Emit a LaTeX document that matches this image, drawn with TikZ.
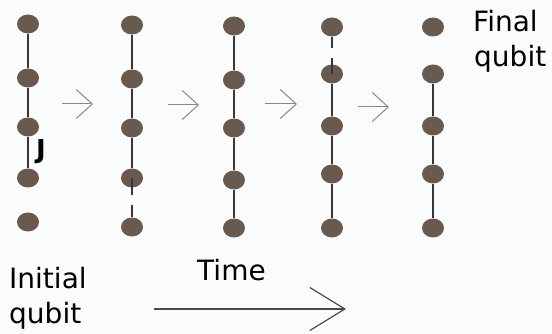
\documentclass[tikz,border=0pt]{standalone}
\usepackage{fontspec}
\setmainfont{DejaVu Sans}
\usetikzlibrary{shapes.geometric,arrows.meta}
\definecolor{dotc}{RGB}{104,90,78}
\definecolor{edgec}{RGB}{55,55,55}
\definecolor{arrc}{RGB}{135,135,135}
\definecolor{bgc}{RGB}{250,252,252}
\tikzset{
  qdot/.style={ellipse, fill=dotc, minimum width=22pt, minimum height=19pt, inner sep=0pt},
  edge/.style={draw=edgec, line width=1.1pt},
  stepar/.style={draw=arrc, line width=1pt, -{Straight Barb[length=16pt,width=29pt]}},
  timear/.style={draw=edgec!90, line width=1.2pt, -{Straight Barb[length=35pt,width=43pt]}},
  lbl/.style={inner sep=0pt, anchor=base west, font=\fontsize{28}{35}\selectfont},
}
\begin{document}
\begin{tikzpicture}[x=1pt,y=-1pt]
\fill[bgc] (0,0) rectangle (552,334);
\useasboundingbox (0,0) rectangle (552,334);
% column 1
\node[qdot] (a1) at (28,24) {};
\node[qdot] (a2) at (28,78) {};
\node[qdot] (a3) at (28,127) {};
\node[qdot] (a4) at (28,178) {};
\node[qdot] (a5) at (28,222) {};
% column 2
\node[qdot] (b1) at (132,25) {};
\node[qdot] (b2) at (132,79) {};
\node[qdot] (b3) at (132,128) {};
\node[qdot] (b4) at (132,178) {};
\node[qdot] (b5) at (132,227) {};
% column 3
\node[qdot] (c1) at (234,26) {};
\node[qdot] (c2) at (234,80) {};
\node[qdot] (c3) at (234,128) {};
\node[qdot] (c4) at (234,180) {};
\node[qdot] (c5) at (234,228) {};
% column 4
\node[qdot] (d1) at (332,27) {};
\node[qdot] (d2) at (332,74) {};
\node[qdot] (d3) at (332,126) {};
\node[qdot] (d4) at (332,174) {};
\node[qdot] (d5) at (332,228) {};
% column 5
\node[qdot] (e1) at (433,27) {};
\node[qdot] (e2) at (433,74) {};
\node[qdot] (e3) at (433,126) {};
\node[qdot] (e4) at (433,174) {};
\node[qdot] (e5) at (433,228) {};
% bonds
\draw[edge] (a1) -- (a2); \draw[edge] (a2) -- (a3); \draw[edge] (a3) -- (a4);
\draw[edge] (b1) -- (b2); \draw[edge] (b2) -- (b3); \draw[edge] (b3) -- (b4);
\draw[edge] (c1) -- (c2); \draw[edge] (c2) -- (c3); \draw[edge] (c3) -- (c4); \draw[edge] (c4) -- (c5);
\draw[edge] (d2) -- (d3); \draw[edge] (d3) -- (d4); \draw[edge] (d4) -- (d5);
\draw[edge] (e2) -- (e3); \draw[edge] (e3) -- (e4); \draw[edge] (e4) -- (e5);
% broken bonds
\coordinate (bx) at (132,195); \coordinate (by) at (132,205);
\draw[edge] (b4.center) -- (bx); \draw[edge] (by) -- (b5);
\coordinate (dx) at (332,48); \coordinate (dy) at (332,58);
\draw[edge] (d1) -- (dx); \draw[edge] (dy) -- (d2.center);
% J label
\node[inner sep=0pt, font=\fontsize{26}{30}\selectfont\bfseries] (J) at (41,152) {J};
% step arrows
\coordinate (s1a) at (62,104); \coordinate (s1b) at (93,104);
\coordinate (s2a) at (168,105); \coordinate (s2b) at (199,105);
\coordinate (s3a) at (265,104); \coordinate (s3b) at (297,104);
\coordinate (s4a) at (358,107); \coordinate (s4b) at (389,107);
\draw[stepar] (s1a) -- (s1b);
\draw[stepar] (s2a) -- (s2b);
\draw[stepar] (s3a) -- (s3b);
\draw[stepar] (s4a) -- (s4b);
% time arrow
\coordinate (ta) at (154,309); \coordinate (tb) at (346,309);
\draw[timear] (ta) -- (tb);
% labels
\node[lbl] (fin1) at (473,32) {Final};
\node[lbl] (fin2) at (474,67) {qubit};
\node[lbl] (ini1) at (9,288) {Initial};
\node[lbl] (ini2) at (9,323) {qubit};
\node[lbl] (time) at (197,280) {Time};
\end{tikzpicture}
\end{document}
